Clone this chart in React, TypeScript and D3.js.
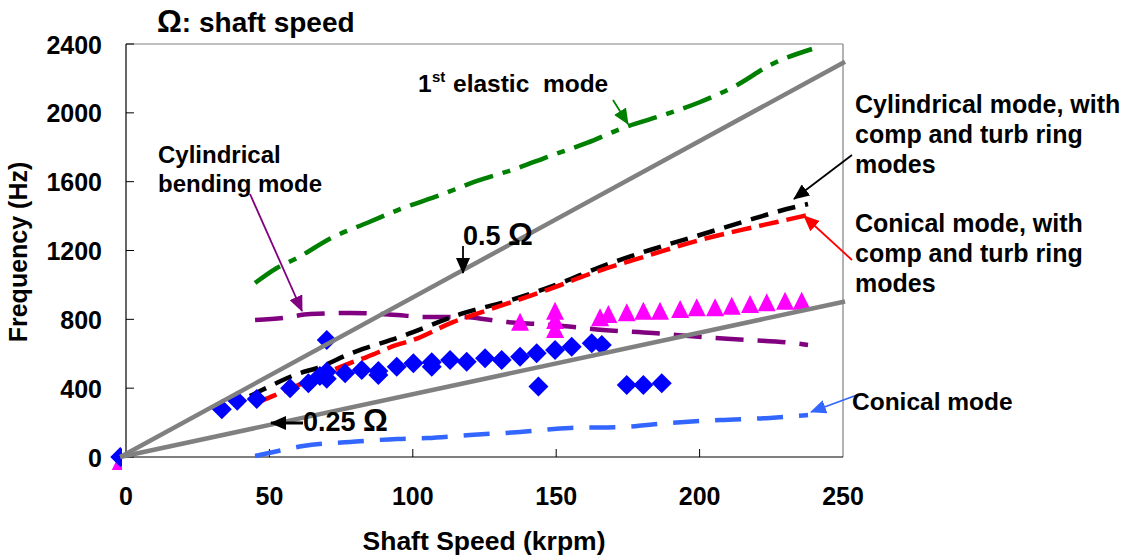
import React from 'react';
import * as d3 from 'd3';

const W = 1127;
const H = 560;

const xTicks = [0, 50, 100, 150, 200, 250];
const yTicks = [0, 400, 800, 1200, 1600, 2000, 2400];

// measured points: [shaft speed krpm, frequency Hz]
const diamonds: [number, number][] = [
  [33.4, 277], [38.8, 327], [45.6, 337], [57.2, 399], [63.6, 428], [67.6, 470], [70, 455], [70, 495],
  [70, 680], [76.4, 486], [82.2, 506], [88, 477], [88, 500], [94.4, 525], [100.2, 545], [106.6, 525],
  [106.6, 550], [113, 564], [118.8, 554], [125.2, 574], [131, 564], [137.4, 583], [143.2, 603],
  [149.6, 622], [155.4, 641], [162.4, 661], [165.9, 651], [143.8, 409], [174.6, 418], [180.4, 418],
  [186.8, 428],
];
const triangles: [number, number][] = [
  [137.4, 780], [149.6, 844], [149.6, 790], [149.6, 738], [165.3, 806], [168.2, 825], [174.6, 835],
  [180.4, 844], [186.2, 844], [193.2, 854], [199, 864], [205.4, 864], [211.2, 873], [217.6, 883],
  [223.4, 893], [229.8, 902], [235.6, 902],
];
const originPoints: [number, number][] = [[-2, 0]];

const halfOmega: [number, number][] = [[-2, 0], [250.7, 2297]];
const quarterOmega: [number, number][] = [[-2, 0], [250.7, 904]];

const elasticMode: [number, number][] = [
  [45, 1011], [52.6, 1098], [59.6, 1156], [72.2, 1278], [84, 1360], [96.6, 1447], [109.5, 1522],
  [122.4, 1604], [135.6, 1674], [147.8, 1749], [160.7, 1825], [173.3, 1912], [187.3, 1987],
  [200.2, 2063], [213.1, 2162], [224.6, 2278], [239.2, 2371],
];
const bendingMode: [number, number][] = [
  [45, 796], [54.7, 808], [64.2, 831], [78.2, 837], [94.5, 825], [103.6, 814], [116.5, 814],
  [132.9, 784], [148.9, 767], [166.3, 738], [183.7, 720], [201.2, 697], [216.5, 680], [232.6, 662],
  [237.8, 651],
];
const cylRingMode: [number, number][] = [
  [43.2, 354], [47.8, 392], [60.7, 488], [66.6, 517], [78.1, 600], [82.6, 628], [95.5, 697],
  [100.1, 726], [116.5, 830], [133.9, 910], [151.3, 1009], [165.3, 1104], [182.7, 1203],
  [200.1, 1290], [215.2, 1367], [232.6, 1450], [237.8, 1470],
];
const conRingMode: [number, number][] = [
  [46, 320], [47.8, 331], [53.7, 372], [64.2, 447], [78.1, 546], [83.9, 581], [94.4, 651],
  [100.1, 680], [114, 784], [126.9, 858], [146.7, 970], [162.8, 1070], [182.7, 1174], [200.1, 1261],
  [217.6, 1331], [227, 1366], [237.4, 1405],
];
const conicalMode: [number, number][] = [
  [45, 6], [54.7, 41], [61.7, 64], [78.1, 87], [94.5, 105], [105, 110], [119.9, 128], [137.4, 145],
  [154.8, 169], [172.2, 174], [189.7, 198], [207.1, 215], [224.5, 227], [237.8, 244],
];

const FONT = '"Liberation Sans", Arial, sans-serif';

export default function App() {
  const x = d3.scaleLinear().domain([0, 250]).range([126, 843]);
  const y = d3.scaleLinear().domain([0, 2400]).range([457, 44]);
  const line = d3.line<[number, number]>().x(d => x(d[0])).y(d => y(d[1])).curve(d3.curveMonotoneX);
  const straight = d3.line<[number, number]>().x(d => x(d[0])).y(d => y(d[1]));

  const diamondPath = (cx: number, cy: number) =>
    `M${cx},${cy - 10}L${cx + 10},${cy}L${cx},${cy + 10}L${cx - 10},${cy}Z`;
  const triPath = (cx: number, cy: number) =>
    `M${cx},${cy - 10}L${cx + 9},${cy + 8}L${cx - 9},${cy + 8}Z`;

  const curves = [
    { d: elasticMode, color: '#008000', dash: '30 10 8 10' },
    { d: bendingMode, color: '#800080', dash: '28 14' },
    { d: cylRingMode, color: '#000000', dash: '18 10' },
    { d: conRingMode, color: '#FF0000', dash: '20 8' },
    { d: conicalMode, color: '#3366FF', dash: '26 16' },
  ];

  const txt = { fontFamily: FONT, fontWeight: 700 as const, fill: '#000' };

  const arrows = [
    { x1: 613, y1: 100, x2: 628, y2: 124, c: '#008000', id: 'ag' },
    { x1: 250, y1: 194, x2: 302, y2: 311, c: '#800080', id: 'ap' },
    { x1: 463, y1: 246, x2: 463, y2: 273, c: '#000000', id: 'ak' },
    { x1: 303, y1: 423, x2: 271, y2: 423, c: '#000000', id: 'ak' },
    { x1: 852, y1: 155, x2: 794, y2: 199, c: '#000000', id: 'ak' },
    { x1: 852, y1: 260, x2: 804, y2: 216, c: '#FF0000', id: 'ar' },
    { x1: 857, y1: 395, x2: 811, y2: 412, c: '#3366FF', id: 'ab' },
  ];
  const markerColors = [
    { id: 'ag', c: '#008000' }, { id: 'ap', c: '#800080' }, { id: 'ak', c: '#000000' },
    { id: 'ar', c: '#FF0000' }, { id: 'ab', c: '#3366FF' },
  ];

  return (
    <svg width={W} height={H} style={{ position: 'absolute', left: 0, top: 0, background: '#fff' }}>
      <defs>
        {markerColors.map(m => (
          <marker key={m.id} id={m.id} markerUnits="userSpaceOnUse" markerWidth={16} markerHeight={14}
            refX={15} refY={7} orient="auto">
            <path d="M0,0L16,7L0,14Z" fill={m.c} />
          </marker>
        ))}
        <clipPath id="originClip">
          <rect x={100} y={430} width={22} height={40} />
        </clipPath>
      </defs>
      <rect x={0} y={0} width={W} height={H} fill="#fff" />

      {/* plot frame */}
      <line x1={126} y1={44} x2={843} y2={44} stroke="#808080" strokeWidth={1.2} />
      <line x1={843} y1={44} x2={843} y2={457} stroke="#808080" strokeWidth={1.2} />
      <line x1={126} y1={44} x2={126} y2={457} stroke="#000" strokeWidth={1.2} />
      <line x1={126} y1={457} x2={843} y2={457} stroke="#000" strokeWidth={1.2} />

      {yTicks.map(t => (
        <g key={'y' + t}>
          <line x1={126} x2={134} y1={y(t)} y2={y(t)} stroke="#000" strokeWidth={1} />
          <text x={102} y={y(t) + 9.5} textAnchor="end" fontSize={25} {...txt}>{t}</text>
        </g>
      ))}
      {xTicks.map(t => (
        <g key={'x' + t}>
          {t > 0 && t < 250 && <line x1={x(t)} x2={x(t)} y1={457} y2={449} stroke="#000" strokeWidth={1} />}
          <text x={x(t)} y={505} textAnchor="middle" fontSize={25} {...txt}>{t}</text>
        </g>
      ))}

      {curves.map((c, i) => (
        <path key={i} d={line(c.d) || ''} fill="none" stroke={c.color} strokeWidth={4.5}
          strokeDasharray={c.dash} />
      ))}

      {diamonds.map((p, i) => (
        <path key={'d' + i} d={diamondPath(x(p[0]), y(p[1]))} fill="#0000FF" />
      ))}
      {triangles.map((p, i) => (
        <path key={'t' + i} d={triPath(x(p[0]), y(p[1]))} fill="#FF00FF" />
      ))}
      <g clipPath="url(#originClip)">
        {originPoints.map((p, i) => (
          <g key={'o' + i}>
            <path d={triPath(x(p[0]), y(p[1]) + 6)} fill="#FF00FF" />
            <path d={diamondPath(x(p[0]), y(p[1]))} fill="#0000FF" />
          </g>
        ))}
      </g>

      <path d={straight(halfOmega) || ''} stroke="#808080" strokeWidth={4.5} fill="none" />
      <path d={straight(quarterOmega) || ''} stroke="#808080" strokeWidth={4.5} fill="none" />

      {arrows.map((a, i) => (
        <line key={'a' + i} x1={a.x1} y1={a.y1} x2={a.x2} y2={a.y2} stroke={a.c}
          strokeWidth={a.x1 === 303 ? 3 : 1.8} markerEnd={`url(#${a.id})`} />
      ))}

      {/* title and axis titles */}
      <text x={157} y={32} fontSize={28} {...txt}>
        <tspan fontSize={31}>Ω</tspan>: shaft speed
      </text>
      <text x={484} y={550} textAnchor="middle" fontSize={26.5} {...txt}>Shaft Speed (krpm)</text>
      <text transform="translate(27,252) rotate(-90)" textAnchor="middle" fontSize={25} {...txt}>Frequency (Hz)</text>

      {/* annotations */}
      <text x={418} y={92} fontSize={24.5} {...txt}>1</text>
      <text x={432} y={82} fontSize={15} {...txt}>st</text>
      <text x={453} y={92} fontSize={24.5} {...txt} style={{ whiteSpace: 'pre' }}>elastic  mode</text>

      <text x={158} y={163} fontSize={24} {...txt}>Cylindrical</text>
      <text x={158} y={192} fontSize={24} {...txt}>bending mode</text>

      <text x={463} y={245} fontSize={27} {...txt}>0.5 <tspan fontSize={31}>Ω</tspan></text>
      <text x={303} y={431} fontSize={27} {...txt}>0.25 <tspan fontSize={31}>Ω</tspan></text>

      <text x={855} y={113} fontSize={25} {...txt}>Cylindrical mode, with</text>
      <text x={855} y={143} fontSize={25} {...txt}>comp and turb ring</text>
      <text x={855} y={173} fontSize={25} {...txt}>modes</text>

      <text x={855} y={232} fontSize={25} {...txt}>Conical mode, with</text>
      <text x={855} y={262} fontSize={25} {...txt}>comp and turb ring</text>
      <text x={855} y={292} fontSize={25} {...txt}>modes</text>

      <text x={852} y={410} fontSize={24.5} {...txt}>Conical mode</text>
    </svg>
  );
}
